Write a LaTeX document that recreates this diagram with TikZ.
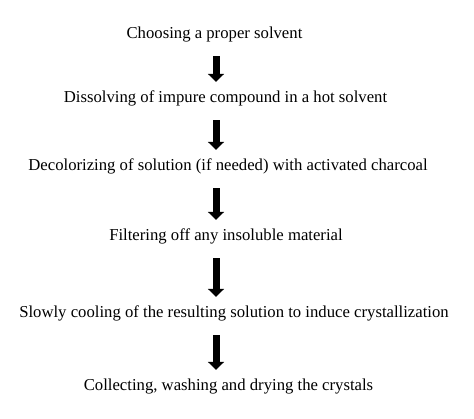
\documentclass[tikz,border=0pt]{standalone}
\usepackage{fontspec}
\setmainfont{Liberation Serif}
\usetikzlibrary{arrows.meta}
\begin{document}
\begin{tikzpicture}[x=1pt, y=-1pt,
    stage/.style={anchor=base, inner sep=0pt, text height=12pt, text depth=3.5pt, font=\fontsize{16.7}{20}\selectfont},
    flow/.style={line width=7pt, -{Triangle[length=8pt, width=16pt]}, shorten <=14.5pt, shorten >=8pt}]
    \useasboundingbox (0,0) rectangle (474,418);
    \coordinate (axis) at (216,0);
    \node [stage] (s1) at (214.5,38) {Choosing a proper solvent};
    \node [stage] (s2) at (225.5,102) {Dissolving of impure compound in a hot solvent};
    \node [stage] (s3) at (228,170) {Decolorizing of solution (if needed) with activated charcoal};
    \node [stage] (s4) at (226,240) {Filtering off any insoluble material};
    \node [stage] (s5) at (234,317) {Slowly cooling of the resulting solution to induce crystallization};
    \node [stage] (s6) at (228.5,390) {Collecting, washing and drying the crystals};
    \draw [flow] (s1.south -| axis) -- (s2.north -| axis);
    \draw [flow] (s2.south -| axis) -- (s3.north -| axis);
    \draw [flow] (s3.south -| axis) -- (s4.north -| axis);
    \draw [flow] (s4.south -| axis) -- (s5.north -| axis);
    \draw [flow] (s5.south -| axis) -- (s6.north -| axis);
\end{tikzpicture}
\end{document}
